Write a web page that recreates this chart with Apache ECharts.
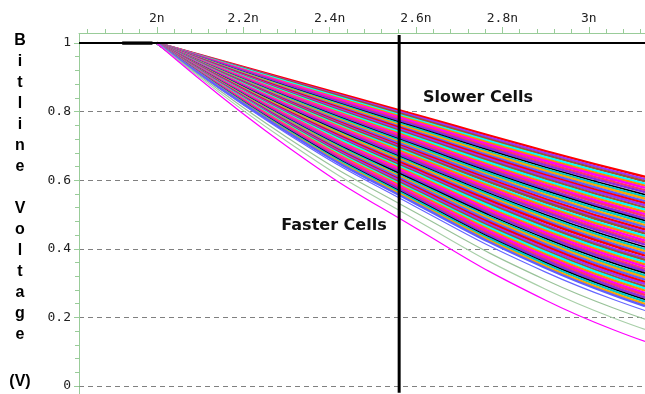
<!DOCTYPE html>
<html>
<head>
<meta charset="UTF-8">
<title>Bitline Voltage</title>
<style>
  html, body { margin:0; padding:0; background:#fff; }
  #chart { width:645px; height:394px; }
</style>
<script src="https://cdn.jsdelivr.net/npm/echarts@6/dist/echarts.min.js"></script>
</head>
<body>
<div id="chart"></div>
<script>
  const sampleT = [2.0, 2.3, 2.6, 2.9, 3.13];
  const startV = 1;

  // bitline voltage at 2.3n, 2.6n, 2.9n, 3.13n, slowest cell first
  const slowCells = [
    [0.895,0.790,0.685,0.610],[0.892,0.785,0.679,0.603],[0.890,0.781,0.673,0.597],[0.887,0.776,0.667,0.590],
    [0.884,0.772,0.661,0.584],[0.882,0.768,0.656,0.578],[0.879,0.763,0.650,0.571],[0.877,0.759,0.644,0.565],
    [0.874,0.754,0.638,0.558],[0.871,0.750,0.632,0.552],[0.869,0.746,0.627,0.546],[0.866,0.741,0.621,0.539],
    [0.864,0.737,0.615,0.533],[0.861,0.733,0.610,0.527],[0.858,0.728,0.604,0.520],[0.856,0.724,0.598,0.514],
    [0.853,0.719,0.592,0.507],[0.851,0.715,0.586,0.501],[0.848,0.711,0.581,0.495],[0.845,0.706,0.575,0.488]
  ];
  const midCells = [
    [0.843,0.702,0.569,0.482],[0.841,0.698,0.564,0.476],[0.838,0.693,0.557,0.469],[0.835,0.689,0.552,0.463],
    [0.832,0.684,0.545,0.456],[0.830,0.680,0.540,0.450],[0.828,0.676,0.535,0.444],[0.825,0.671,0.528,0.437],
    [0.822,0.667,0.523,0.431],[0.820,0.662,0.517,0.424],[0.817,0.658,0.511,0.418],[0.815,0.654,0.506,0.412],
    [0.812,0.649,0.499,0.405],[0.809,0.645,0.494,0.399],[0.807,0.641,0.488,0.393],[0.804,0.636,0.482,0.386],
    [0.802,0.632,0.477,0.380],[0.799,0.627,0.470,0.373],[0.796,0.623,0.465,0.367],[0.794,0.619,0.459,0.361]
  ];
  const fastCells = [
    [0.791,0.614,0.453,0.354],[0.789,0.610,0.447,0.348],[0.786,0.605,0.441,0.341],[0.783,0.601,0.436,0.335],
    [0.781,0.597,0.430,0.329],[0.778,0.592,0.424,0.322],[0.776,0.588,0.419,0.316],[0.773,0.584,0.413,0.310],
    [0.770,0.579,0.407,0.303],[0.768,0.575,0.401,0.297],[0.765,0.570,0.395,0.290],[0.763,0.566,0.390,0.284],
    [0.760,0.562,0.384,0.278],[0.757,0.557,0.378,0.271],[0.755,0.553,0.372,0.265],[0.752,0.548,0.366,0.258],
    [0.750,0.544,0.360,0.252],[0.747,0.540,0.355,0.246],[0.744,0.535,0.349,0.239],[0.742,0.531,0.344,0.233]
  ];
  // the few fastest cells below the dense band
  const fastestCells = [
    [0.737,0.522,0.332,0.220],[0.726,0.505,0.309,0.195],[0.714,0.484,0.282,0.165],[0.700,0.460,0.250,0.130]
  ];

  const cursorX = 2.561;
  const xTickValues = [2, 2.2, 2.4, 2.6, 2.8, 3];
  const xTickLabels = ['2n', '2.2n', '2.4n', '2.6n', '2.8n', '3n'];
  const xMinorTicks = [1.84,1.88,1.92,1.96,2.04,2.08,2.12,2.16,2.24,2.28,2.32,2.36,2.44,2.48,2.52,2.56,
                       2.64,2.68,2.72,2.76,2.84,2.88,2.92,2.96,3.04,3.08,3.12];
  const yTickLabels = ['0', '0.2', '0.4', '0.6', '0.8', '1'];

  const palette = ['#ff0000', '#ff00ff', '#ffa500', '#00ffff', '#000000', '#9933ff',
                   '#ff3366', '#5f5fff', '#ff8800', '#00cccc', '#a0522d', '#8a2be2'];
  const fastestColors = ['#6666ff', '#99c299', '#a8cfa8', '#ff00ff'];
  const axisGreen = '#99cc99';

  const toPoints = row => sampleT.map((t, k) => [t, k === 0 ? startV : row[k - 1]]);

  const series = [];
  slowCells.concat(midCells, fastCells).forEach((row, i) => {
    const color = palette[(i * 5) % palette.length];
    series.push({
      type: 'line', data: toPoints(row), smooth: true, symbol: 'none', silent: true,
      lineStyle: { color: color, width: color === '#000000' ? 1.6 : 2.4 }
    });
  });
  fastestCells.forEach((row, i) => {
    series.push({
      type: 'line', data: toPoints(row), smooth: true, symbol: 'none', silent: true,
      lineStyle: { color: fastestColors[i], width: 1.2 }
    });
  });
  // settled level at 1 V
  series.push({
    type: 'line', data: [[1.82, 1], [3.13, 1]], symbol: 'none', silent: true,
    lineStyle: { color: '#000', width: 2 }
  });
  series.push({
    type: 'line', data: [[1.92, 1], [1.99, 1]], symbol: 'none', silent: true,
    lineStyle: { color: '#000', width: 3.5 }
  });
  // cursor
  series.push({
    type: 'line', data: [[cursorX, -0.02], [cursorX, 1.023]], symbol: 'none', silent: true, clip: false,
    lineStyle: { color: '#000', width: 3 }
  });

  const chart = echarts.init(document.getElementById('chart'));
  chart.setOption({
    animation: false,
    backgroundColor: '#fff',
    grid: { left: 79, right: 0, top: 43, bottom: 8 },
    xAxis: [{
      type: 'value', position: 'top', min: 1.82, max: 3.13, offset: 10,
      axisLine: { onZero: false, lineStyle: { color: axisGreen, width: 1 } },
      axisTick: { customValues: xTickValues, length: 6, lineStyle: { color: axisGreen } },
      axisLabel: {
        customValues: xTickValues, margin: 8, color: '#222',
        fontFamily: 'DejaVu Sans Mono', fontSize: 13,
        formatter: v => {
          const i = xTickValues.findIndex(t => Math.abs(t - v) < 1e-6);
          return i >= 0 ? xTickLabels[i] : '';
        }
      },
      splitLine: { show: false }
    }, {
      type: 'value', position: 'top', min: 1.82, max: 3.13, offset: 10,
      axisLine: { show: false, onZero: false },
      axisTick: { customValues: xMinorTicks, length: 4, lineStyle: { color: axisGreen } },
      axisLabel: { show: false },
      splitLine: { show: false }
    }],
    yAxis: {
      type: 'value', min: 0, max: 1, interval: 0.2,
      axisLine: { onZero: false, lineStyle: { color: axisGreen, width: 1 } },
      axisTick: { length: 5, lineStyle: { color: axisGreen } },
      minorTick: { show: true, splitNumber: 5, length: 4, lineStyle: { color: axisGreen } },
      axisLabel: {
        margin: 8, color: '#222', fontFamily: 'DejaVu Sans Mono', fontSize: 13,
        formatter: v => yTickLabels[Math.round(v / 0.2)]
      },
      splitLine: { lineStyle: { color: '#808080', type: [5, 4], width: 1 } }
    },
    graphic: [
      { type: 'line', shape: { x1: 79.5, y1: 33, x2: 79.5, y2: 43 }, style: { stroke: axisGreen, lineWidth: 1 } },
      { type: 'line', shape: { x1: 79.5, y1: 386, x2: 79.5, y2: 394 }, style: { stroke: axisGreen, lineWidth: 1 } },
      {
        type: 'text', x: 20, y: 30.5,
        style: {
          text: 'B\ni\nt\nl\ni\nn\ne\n\nV\no\nl\nt\na\ng\ne',
          font: 'bold 16px "Liberation Sans"', lineHeight: 21,
          textAlign: 'center', textVerticalAlign: 'top', fill: '#000'
        }
      },
      {
        type: 'text', x: 20, y: 382,
        style: { text: '(V)', font: 'bold 16px "Liberation Sans"', textAlign: 'center', textVerticalAlign: 'middle', fill: '#000' }
      },
      {
        type: 'text', x: 478, y: 98,
        style: { text: 'Slower Cells', font: 'bold 16px "DejaVu Sans"', textAlign: 'center', textVerticalAlign: 'middle', fill: '#111' }
      },
      {
        type: 'text', x: 334, y: 226,
        style: { text: 'Faster Cells', font: 'bold 16px "DejaVu Sans"', textAlign: 'center', textVerticalAlign: 'middle', fill: '#111' }
      }
    ],
    series: series
  });
</script>
</body>
</html>
